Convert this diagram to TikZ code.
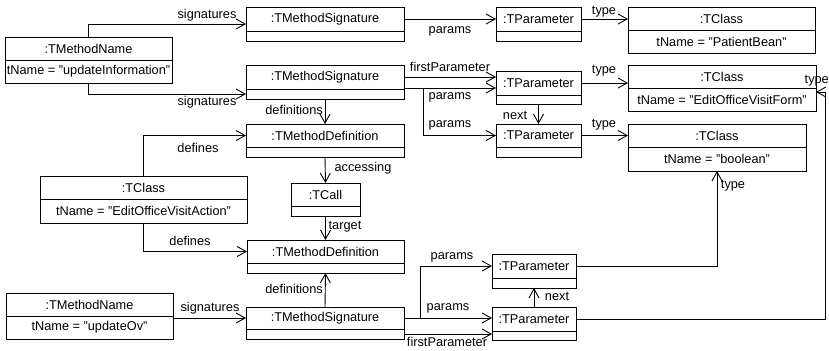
\documentclass[tikz,border=0pt]{standalone}
\usepackage{fontspec}
\setmainfont{Liberation Sans}
\usetikzlibrary{arrows.meta}

% Object box with a name compartment and an attribute compartment
% args: name, x1, y1, x2, y2, divider y, title, attribute
\newcommand\objbox[8]{%
  \node[objframe, minimum width={(#4-#2)*1bp}, minimum height={(#5-#3)*1bp}]
    (#1) at ({(#2+#4)/2},{(#3+#5)/2}) {};
  \draw[objline] (#1.west |- 0,#6) -- (#1.east |- 0,#6);
  \node[objtext] (#1-t) at ({(#2+#4)/2},{(#3+#6)/2}) {#7};
  \node[objtext] (#1-a) at ({(#2+#4)/2},{(#6+#5)/2}) {#8};
}
% Object box whose attribute compartment is empty
% args: name, x1, y1, x2, y2, divider y, title
\newcommand\sigbox[7]{%
  \node[objframe, minimum width={(#4-#2)*1bp}, minimum height={(#5-#3)*1bp}]
    (#1) at ({(#2+#4)/2},{(#3+#5)/2}) {};
  \draw[objline] (#1.west |- 0,#6) -- (#1.east |- 0,#6);
  \node[objtext] (#1-t) at ({(#2+#4)/2},{(#3+#6)/2}) {#7};
}

\tikzset{
  objframe/.style={draw, line width=0.9bp, inner sep=0pt, outer sep=0pt},
  objline/.style={line width=0.9bp},
  objtext/.style={inner sep=0pt, font=\fontsize{12.8}{14}\selectfont},
  nav/.style={line width=0.9bp, -{Straight Barb[length=9bp, width=10bp, line width=0.9bp]}},
  lbl/.style={inner sep=0pt, font=\fontsize{12.8}{14}\selectfont},
}

\begin{document}
\begin{tikzpicture}[x=1bp, y=-1bp]
\useasboundingbox (0,0) rectangle (829,350);

% ---- objects ----
\objbox{mnA}{5}{37}{172}{83}{60}{:TMethodName}{tName = "updateInformation"}
\sigbox{msA}{246}{7}{404}{41}{31}{:TMethodSignature}
\sigbox{tpA}{496}{7}{581}{41}{31}{:TParameter}
\objbox{tcA}{628}{7}{815}{53}{30}{:TClass}{tName = "PatientBean"}

\sigbox{msB}{246}{65}{404}{99}{89}{:TMethodSignature}
\sigbox{tpB}{496}{71}{581}{104}{95}{:TParameter}
\objbox{tcB}{628}{65}{816}{111}{88}{:TClass}{tName = "EditOfficeVisitForm"}

\sigbox{mdA}{246}{124}{404}{157}{147}{:TMethodDefinition}
\sigbox{tpC}{496}{124}{581}{157}{147}{:TParameter}
\objbox{tcC}{628}{124}{806}{171}{147}{:TClass}{tName = "boolean"}

\objbox{cls}{40}{176}{247}{223}{199}{:TClass}{tName = "EditOfficeVisitAction"}
\sigbox{call}{291}{183}{360}{216}{206}{:TCall}

\sigbox{mdB}{247}{240}{404}{273}{263}{:TMethodDefinition}
\sigbox{tpD}{492}{254}{576}{288}{278}{:TParameter}

\objbox{mnB}{6}{293}{173}{339}{316}{:TMethodName}{tName = "updateOv"}
\sigbox{msC}{246}{307}{404}{339}{329}{:TMethodSignature}
\sigbox{tpE}{492}{307}{576}{340}{331}{:TParameter}

% ---- links ----
\draw[nav] (mnA.north) |- (msA.west);
\node[lbl] (l1) at (207,15) {signatures};
\draw[nav] (mnA.south) |- ([yshift=5bp]msB.south west);
\node[lbl] (l2) at (207,102) {signatures};

\draw[nav] (msA-t -| msA.east) -- (msA-t -| tpA.west);
\node[lbl] (l3) at (450,31) {params};
\draw[nav] (tpA-t -| tpA.east) -- (tpA-t -| tcA.west);
\node[lbl] (l4) at (604,12) {type};

\draw[nav] (msB-t -| msB.east) -- (msB-t -| tpB.west);
\node[lbl] (l5) at (450,67) {firstParameter};
\draw[nav] ([yshift=-5bp]tpB-t -| msB.east) -- ([yshift=-5bp]tpB-t -| tpB.west);
\node[lbl] (l6) at (450,97) {params};
\draw[nav] ([yshift=-5bp]tpB-t -| msB.east) -- ++(19,0) |- (tpC-t -| tpC.west);
\node[lbl] (l7) at (450,125) {params};

\draw[nav] (tpB.south) -- (tpC.north);
\node[lbl] (l8) at (515,115) {next};
\draw[nav] (tpB-t -| tpB.east) -- (tpB-t -| tcB.west);
\node[lbl] (l9) at (604,71) {type};
\draw[nav] (tpC-t -| tpC.east) -- (tpC-t -| tcC.west);
\node[lbl] (l10) at (604,125) {type};

\draw[nav] (msB.south) -- (mdA.north);
\node[lbl, anchor=east] (l11) at (323,110) {definitions};
\draw[nav] (mdA.south) -- (call.north);
\node[lbl] (l12) at (363,168) {accessing};
\draw[nav] (call.south) -- (mdB.north);
\node[lbl] (l13) at (345,227) {target};

\draw[nav] (cls.north) |- (mdA-t -| mdA.west);
\node[lbl] (l14) at (198,148) {defines};
\draw[nav] (cls.south) |- (mdB-t -| mdB.west);
\node[lbl] (l15) at (190,241) {defines};

\draw[nav] (msC-t -| mnB.east) -- (msC-t -| msC.west);
\node[lbl] (l16) at (210,308) {signatures};
\draw[nav] (msC.north) -- (mdB.south);
\node[lbl, anchor=east] (l17) at (323,289) {definitions};

\draw[nav] (msC-t -| msC.east) -- ++(16,0) |- (tpD-t -| tpD.west);
\node[lbl] (l18) at (452,257) {params};
\draw[nav] (msC-t -| msC.east) -- (msC-t -| tpE.west);
\node[lbl] (l19) at (448,308) {params};
\draw[nav] ([yshift=5bp]msC.south east) -- ([yshift=5bp]msC.south east -| tpE.west);
\node[lbl] (l20) at (447,342) {firstParameter};

\draw[nav] (tpE.north) -- (tpD.south);
\node[lbl] (l21) at (557,296) {next};

\draw[nav] (tpD-t -| tpD.east) -| (tcC.south);
\node[lbl] (l22) at (733,186) {type};
\draw[nav] (tpE-t -| tpE.east) -- ++(249,0) |- ([yshift=-4bp]tcB.east);
\node[lbl, anchor=east] (l23) at (829,81) {type};
\end{tikzpicture}
\end{document}
